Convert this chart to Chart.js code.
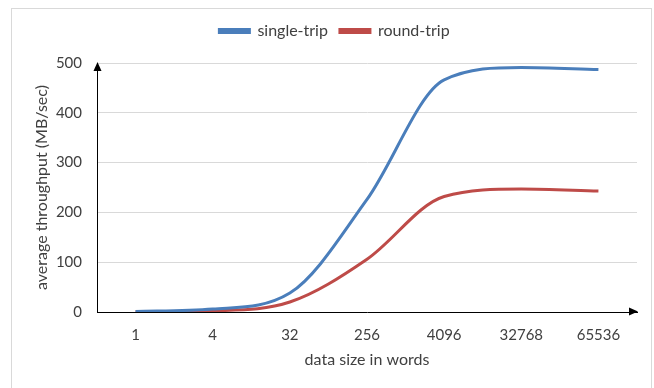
<!DOCTYPE html>
<html>
<head>
<meta charset="utf-8">
<script src="https://cdn.jsdelivr.net/npm/chart.js@4/dist/chart.umd.min.js"></script>
<style>
  html, body { margin: 0; padding: 0; background: #fff; overflow: hidden; }
  #wrap { position: relative; width: 654px; height: 388px; }
  #frame { position: absolute; left: 11px; top: 8px; width: 641px; height: 400px; border: 1px solid #d9d9d9; box-sizing: border-box; }
  canvas { position: absolute; left: 0; top: 0; }
</style>
</head>
<body>
<div id="wrap">
  <div id="frame"></div>
  <canvas id="c" width="654" height="388"></canvas>
</div>
<script>
const categories = ['1', '4', '32', '256', '4096', '32768', '65536'];
const singleTrip = [1, 6, 38, 226, 466, 491, 487];
const roundTrip = [0.5, 2.5, 20, 106, 232, 247, 243];
const yTicks = [0, 100, 200, 300, 400, 500];

const FONT = 'Lato, "Open Sans", sans-serif';
const TEXT = '#404040';

const arrows = {
  id: 'arrows',
  afterDraw(chart) {
    const ctx = chart.ctx;
    const a = chart.chartArea;
    const xl = Math.round(a.left) + 0.5;
    const yb = Math.round(a.bottom) - 0.5;
    ctx.save();
    ctx.fillStyle = '#000';
    ctx.beginPath();
    ctx.moveTo(xl, a.top - 1);
    ctx.lineTo(xl - 4, a.top + 8);
    ctx.lineTo(xl + 4, a.top + 8);
    ctx.closePath();
    ctx.fill();
    ctx.beginPath();
    ctx.moveTo(a.right + 1, yb);
    ctx.lineTo(a.right - 8, yb - 4);
    ctx.lineTo(a.right - 8, yb + 4);
    ctx.closePath();
    ctx.fill();
    ctx.restore();
  }
};

new Chart(document.getElementById('c'), {
  type: 'line',
  data: {
    labels: categories,
    datasets: [
      { label: 'single-trip', data: singleTrip, borderColor: '#4a7ebb', backgroundColor: '#4a7ebb', xAxisID: 'x' },
      { label: 'round-trip', data: roundTrip, borderColor: '#be4b48', backgroundColor: '#be4b48', xAxisID: 'x' }
    ]
  },
  options: {
    responsive: false,
    animation: false,
    devicePixelRatio: 1,
    layout: { padding: { left: 32, right: 17, top: 11, bottom: 0 } },
    elements: {
      line: { borderWidth: 3, cubicInterpolationMode: 'monotone', fill: false, capBezierPoints: false },
      point: { radius: 0 }
    },
    plugins: {
      legend: {
        position: 'top',
        labels: { font: { family: FONT, size: 16 }, color: TEXT, boxWidth: 30, boxHeight: 3, padding: 12 }
      },
      tooltip: { enabled: false }
    },
    scales: {
      x: {
        type: 'category',
        position: 'bottom',
        offset: true,
        grid: { display: false, drawTicks: false },
        border: { display: true, color: '#000', width: 1 },
        ticks: { font: { family: FONT, size: 15 }, color: TEXT, padding: 14 },
        title: { display: true, text: 'data size in words', font: { family: FONT, size: 16 }, color: TEXT, padding: { top: 0, bottom: 19 } },
        afterFit(s) { s.height = 76; }
      },
      xTop: {
        type: 'category',
        position: 'top',
        display: true,
        grid: { display: false, drawTicks: false },
        border: { display: false },
        ticks: { display: false },
        afterFit(s) { s.height = 14; }
      },
      y: {
        min: 0,
        max: 500,
        afterBuildTicks(s) { s.ticks = yTicks.map(v => ({ value: v })); },
        grid: { color: '#d9d9d9', drawTicks: false, lineWidth: 1 },
        border: { display: true, color: '#000', width: 1 },
        ticks: { font: { family: FONT, size: 15 }, color: TEXT, padding: 15 },
        title: { display: true, text: 'average throughput (MB/sec)', font: { family: FONT, size: 16 }, color: TEXT, padding: { top: 0, bottom: 0 } },
        afterFit(s) { s.width = 65; }
      }
    }
  },
  plugins: [arrows]
});
</script>
</body>
</html>
